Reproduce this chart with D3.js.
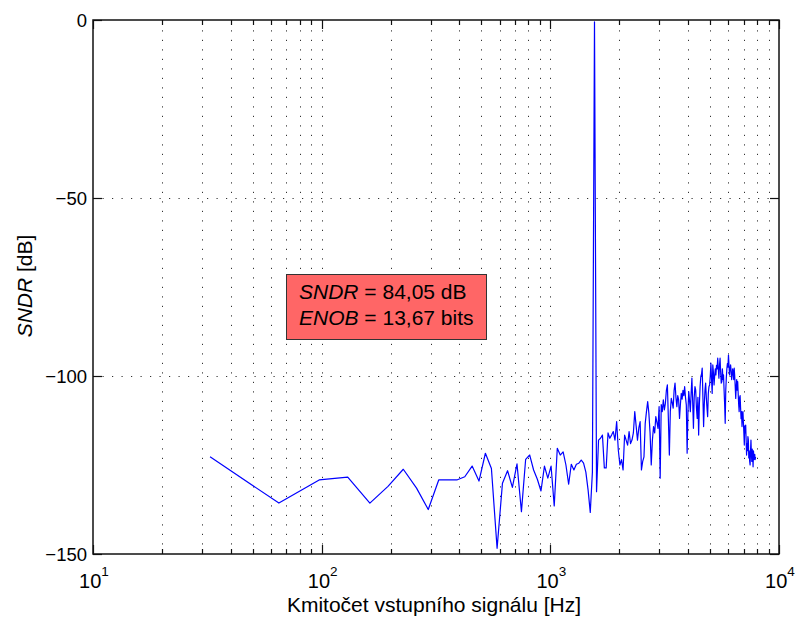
<!DOCTYPE html>
<html><head><meta charset="utf-8">
<script src="https://cdn.jsdelivr.net/npm/d3@7/dist/d3.min.js"></script>
<style>
body{margin:0;background:#fff}
svg{display:block}
text{font-family:"Liberation Sans",Arial,Helvetica,sans-serif;fill:#000}
</style>
</head><body>
<svg id="chart" width="795" height="617"></svg>
<script>
// FFT bin spacing (Hz); bin k sits at k * binWidthHz
const binWidthHz = 32.5;
// SNDR spectrum values [dB], one per bin (k = 1 .. 243)
const sndrDb = [
 -122.7,-135.7,-129.2,-128.4,-135.7,-131.0,-126.2,-131.5,-137.5,-129.2,
 -129.2,-129.2,-128.3,-125.3,-129.5,-121.7,-126.0,-148.4,-130.1,-126.6,
 -131.3,-124.7,-138.1,-123.4,-122.2,-126.4,-129.0,-132.3,-125.3,-128.7,
 -125.3,-136.5,-120.3,-122.2,-121.3,-125.0,-130.4,-124.8,-126.4,-124.8,
 -124.5,-123.6,-124.5,-127.0,-132.0,-138.3,-127.0,-0.5,-132.5,-118.0,
 -117.5,-116.6,-125.8,-125.8,-116.0,-117.5,-116.6,-115.6,-118.0,-112.8,
 -120.8,-125.0,-123.5,-126.4,-116.6,-118.0,-119.4,-115.6,-119.0,-118.0,
 -116.0,-110.0,-114.0,-118.0,-114.6,-112.8,-126.4,-124.0,-122.7,-113.3,
 -110.0,-107.2,-110.5,-116.0,-125.0,-118.0,-114.2,-116.0,-111.4,-113.0,
 -114.7,-108.6,-128.7,-108.0,-110.0,-106.7,-109.5,-107.7,-104.0,-102.5,
 -112.0,-122.2,-110.0,-106.3,-107.5,-109.0,-104.0,-102.0,-106.0,-108.6,
 -105.5,-106.7,-111.9,-108.0,-104.9,-106.5,-104.0,-105.5,-103.0,-106.0,
 -108.1,-121.7,-110.0,-104.4,-107.0,-110.0,-105.0,-100.6,-107.0,-114.7,
 -106.0,-103.0,-104.0,-109.0,-111.9,-106.0,-116.6,-108.0,-103.0,-100.2,
 -99.5,-97.8,-106.0,-114.2,-108.0,-104.0,-102.0,-106.0,-109.0,-111.4,
 -105.0,-103.0,-102.5,-100.0,-96.4,-101.0,-104.9,-96.9,-99.0,-102.5,
 -100.0,-98.0,-99.7,-97.0,-98.0,-95.0,-98.0,-100.6,-97.0,-95.0,
 -99.0,-102.0,-101.6,-98.0,-101.0,-99.7,-104.0,-108.0,-113.3,-104.0,
 -100.6,-98.0,-96.5,-97.5,-94.1,-97.0,-99.7,-98.0,-96.9,-98.5,
 -101.0,-99.7,-98.0,-99.0,-101.0,-97.8,-100.0,-103.0,-106.3,-103.0,
 -101.0,-104.0,-101.6,-105.0,-108.0,-110.0,-106.0,-105.5,-109.0,-112.0,
 -110.0,-114.2,-111.0,-110.0,-113.0,-116.0,-119.4,-114.0,-116.0,-113.8,
 -118.0,-122.2,-119.0,-121.0,-117.0,-118.0,-123.0,-121.0,-124.0,-125.0,
 -121.0,-118.0,-122.0,-124.0,-120.5,-122.2,-125.5,-121.0,-123.5,-123.1,
 -122.0,-123.5,-122.7
];
const xDomain = [10, 10000];
const yDomain = [-150, 0];
const yTickValues = [-150, -100, -50, 0];
const xDecadeExponents = [1, 2, 3, 4];
const xAxisTitle = "Kmitočet vstupního signálu [Hz]";
const yAxisTitleItalic = "SNDR", yAxisTitleRest = " [dB]";
const noteLines = [["SNDR", " = 84,05 dB"], ["ENOB", " = 13,67 bits"]];

const spectrum = sndrDb.map((v, i) => ({f: (i + 1) * binWidthHz, v}));

const svg = d3.select("#chart");
const L = 93, R = 779, T = 20, B = 554;
const x = d3.scaleLog().domain(xDomain).range([L, R]);
const y = d3.scaleLinear().domain(yDomain).range([B, T]);

svg.append("rect").attr("x", 0).attr("y", 0).attr("width", 795).attr("height", 617).attr("fill", "#fff");
svg.append("rect").attr("x", L).attr("y", T).attr("width", R - L).attr("height", B - T).attr("fill", "#fff");

const allXTicks = x.ticks();
const isMajor = t => Math.abs(Math.log10(t) - Math.round(Math.log10(t))) < 1e-9;

// grid
const grid = svg.append("g").attr("stroke", "#333").attr("stroke-width", 1).attr("stroke-dasharray", "1.2,8.3");
allXTicks.filter(t => t > xDomain[0] && t < xDomain[1]).forEach(t => {
  const px = Math.round(x(t)) + 0.5;
  grid.append("line").attr("x1", px).attr("x2", px).attr("y1", B).attr("y2", T);
});
yTickValues.filter(t => t > yDomain[0] && t < yDomain[1]).forEach(t => {
  const py = Math.round(y(t)) + 0.5;
  grid.append("line").attr("x1", L).attr("x2", R).attr("y1", py).attr("y2", py);
});

// data line
svg.append("path").datum(spectrum)
  .attr("fill", "none").attr("stroke", "#0000ff").attr("stroke-width", 1.2)
  .attr("stroke-linejoin", "round")
  .attr("d", d3.line().x(d => x(d.f)).y(d => y(d.v)));

// ticks (inside, both sides)
const ticks = svg.append("g").attr("stroke", "#111").attr("stroke-width", 1.2);
allXTicks.forEach(t => {
  const px = Math.round(x(t)) + 0.5;
  const len = isMajor(t) ? 9 : 5;
  ticks.append("line").attr("x1", px).attr("x2", px).attr("y1", B).attr("y2", B - len);
  ticks.append("line").attr("x1", px).attr("x2", px).attr("y1", T).attr("y2", T + len);
});
yTickValues.forEach(t => {
  const py = Math.round(y(t)) + 0.5;
  ticks.append("line").attr("x1", L).attr("x2", L + 9).attr("y1", py).attr("y2", py);
  ticks.append("line").attr("x1", R).attr("x2", R - 9).attr("y1", py).attr("y2", py);
});

// box
svg.append("rect").attr("x", L).attr("y", T).attr("width", R - L).attr("height", B - T)
  .attr("fill", "none").attr("stroke", "#111").attr("stroke-width", 1.5);

// y tick labels
yTickValues.forEach(t => {
  svg.append("text").attr("x", L - 6).attr("y", y(t)).attr("dy", "0.36em")
    .attr("text-anchor", "end").attr("font-size", 18.5)
    .text(t < 0 ? "\u2212" + Math.abs(t) : String(t));
});

// x tick labels 10^n
xDecadeExponents.forEach(e => {
  const tx = svg.append("text").attr("x", x(Math.pow(10, e)) + 1).attr("y", 588)
    .attr("text-anchor", "middle").attr("font-size", 20);
  tx.append("tspan").text("10");
  tx.append("tspan").attr("font-size", 13.5).attr("dy", -12).text(String(e));
});

// axis titles
svg.append("text").attr("x", 434).attr("y", 612).attr("text-anchor", "middle")
  .attr("font-size", 21).text(xAxisTitle);
const yt = svg.append("text").attr("transform", "translate(32,286) rotate(-90)")
  .attr("text-anchor", "middle").attr("font-size", 21);
yt.append("tspan").attr("font-style", "italic").text(yAxisTitleItalic);
yt.append("tspan").text(yAxisTitleRest);

// annotation box
svg.append("rect").attr("x", 286.5).attr("y", 274.5).attr("width", 200).attr("height", 65)
  .attr("fill", "#ff6666").attr("stroke", "#333").attr("stroke-width", 1);
noteLines.forEach((ln, i) => {
  const t = svg.append("text").attr("x", 299).attr("y", 298.5 + i * 26).attr("font-size", 21);
  t.append("tspan").attr("font-style", "italic").text(ln[0]);
  t.append("tspan").text(ln[1]);
});
</script>
</body></html>
